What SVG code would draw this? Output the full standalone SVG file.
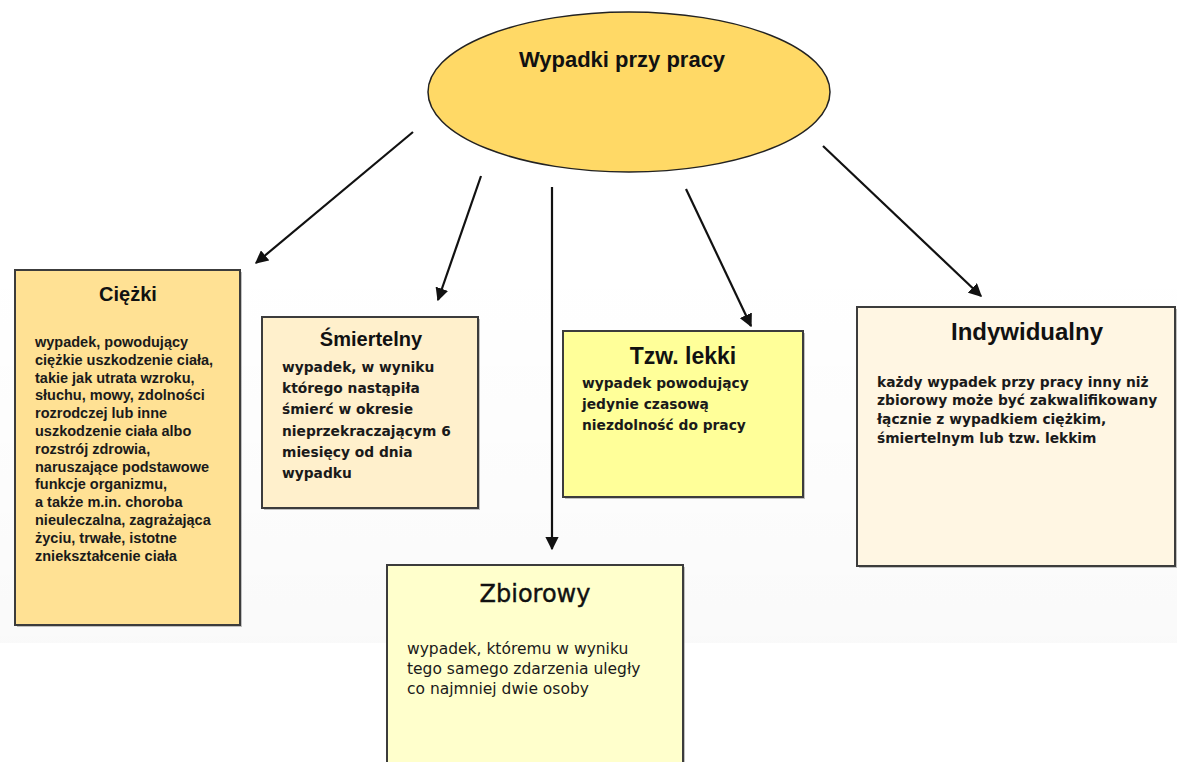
<svg xmlns="http://www.w3.org/2000/svg" width="1177" height="762" viewBox="0 0 1177 762">
<defs>
<style>
.box{stroke:#3c3c3c;stroke-width:2}
.shadow{fill:#9a9a9a;opacity:0.6}
.title{font-family:"Liberation Sans",Arial,sans-serif;font-weight:bold;fill:#111;text-anchor:middle}
.body{font-family:"DejaVu Sans",Verdana,sans-serif;font-size:13.8px;font-weight:bold;fill:#1a1a1a}
.conn{stroke:#111;stroke-width:2.2;fill:none;marker-end:url(#arr)}
</style>
<marker id="arr" viewBox="0 0 10 10" refX="9" refY="5" markerWidth="6" markerHeight="6" markerUnits="strokeWidth" orient="auto">
<path d="M0,0 L10,5 L0,10 z" fill="#111"/>
</marker>
<linearGradient id="bg" x1="0" y1="0" x2="0" y2="1">
<stop offset="0" stop-color="#000" stop-opacity="0"/>
<stop offset="0.6" stop-color="#000" stop-opacity="0.012"/>
<stop offset="1" stop-color="#000" stop-opacity="0.022"/>
</linearGradient>
</defs>
<rect width="1177" height="762" fill="#fff"/>
<rect x="0" y="250" width="1177" height="393" fill="url(#bg)"/>

<g id="connectors">
<line class="conn" x1="413" y1="132" x2="256" y2="263"/>
<line class="conn" x1="481" y1="176" x2="438" y2="300"/>
<line class="conn" x1="552" y1="187" x2="552" y2="549"/>
<line class="conn" x1="686" y1="189" x2="751" y2="326"/>
<line class="conn" x1="823" y1="146" x2="981" y2="296"/>
</g>

<g id="root">
<ellipse cx="629" cy="92" rx="201" ry="80" fill="#FFD966" stroke="#222" stroke-width="1.5"/>
<text class="title" x="622" y="67" font-size="22">Wypadki przy pracy</text>
</g>

<g id="ciezki">
<rect class="shadow" x="17" y="272" width="225" height="355"/>
<rect class="box" x="15" y="270" width="225" height="355" fill="#FFE194"/>
<text class="title" x="128" y="301" font-size="20">Ciężki</text>
<text font-family="'Liberation Sans',Arial,sans-serif" font-size="14.5" font-weight="bold" fill="#1a1a1a">
<tspan x="35" y="347">wypadek, powodujący</tspan>
<tspan x="35" y="365">ciężkie uszkodzenie ciała,</tspan>
<tspan x="35" y="383">takie jak utrata wzroku,</tspan>
<tspan x="35" y="400">słuchu, mowy, zdolności</tspan>
<tspan x="35" y="418">rozrodczej lub inne</tspan>
<tspan x="35" y="436">uszkodzenie ciała albo</tspan>
<tspan x="35" y="454">rozstrój zdrowia,</tspan>
<tspan x="35" y="472">naruszające podstawowe</tspan>
<tspan x="35" y="489">funkcje organizmu,</tspan>
<tspan x="35" y="507">a także m.in. choroba</tspan>
<tspan x="35" y="525">nieuleczalna, zagrażająca</tspan>
<tspan x="35" y="543">życiu, trwałe, istotne</tspan>
<tspan x="35" y="561">zniekształcenie ciała</tspan>
</text>
</g>

<g id="smiertelny">
<rect class="shadow" x="264" y="319" width="216" height="191"/>
<rect class="box" x="262" y="317" width="216" height="191" fill="#FFF0CC"/>
<text class="title" x="371" y="346" font-size="20">Śmiertelny</text>
<text class="body">
<tspan x="282" y="372">wypadek, w wyniku</tspan>
<tspan x="282" y="393">którego nastąpiła</tspan>
<tspan x="282" y="414">śmierć w okresie</tspan>
<tspan x="282" y="436">nieprzekraczającym 6</tspan>
<tspan x="282" y="457">miesięcy od dnia</tspan>
<tspan x="282" y="478">wypadku</tspan>
</text>
</g>

<g id="lekki">
<rect class="shadow" x="565" y="333" width="240" height="166"/>
<rect class="box" x="563" y="331" width="240" height="166" fill="#FFFF99"/>
<text class="title" x="683" y="364" font-size="23">Tzw. lekki</text>
<text class="body" font-size="14.5">
<tspan x="582" y="388">wypadek powodujący</tspan>
<tspan x="582" y="409">jedynie czasową</tspan>
<tspan x="582" y="430">niezdolność do pracy</tspan>
</text>
</g>

<g id="zbiorowy">
<rect class="shadow" x="389" y="567" width="296" height="200"/>
<rect class="box" x="387" y="565" width="296" height="200" fill="#FFFFCC"/>
<text x="535" y="602" font-family="'DejaVu Sans',Verdana,sans-serif" font-size="24" fill="#111" stroke="#111" stroke-width="0.4" text-anchor="middle">Zbiorowy</text>
<text font-family="'DejaVu Sans',Verdana,sans-serif" font-size="15.5" fill="#1a1a1a">
<tspan x="407" y="654">wypadek, któremu w wyniku</tspan>
<tspan x="407" y="674">tego samego zdarzenia uległy</tspan>
<tspan x="407" y="694">co najmniej dwie osoby</tspan>
</text>
</g>

<g id="indywidualny">
<rect class="shadow" x="859" y="309" width="320" height="259"/>
<rect class="box" x="857" y="307" width="318" height="259" fill="#FFF6E3"/>
<text class="title" x="1027" y="340" font-size="24">Indywidualny</text>
<text class="body">
<tspan x="877" y="387">każdy wypadek przy pracy inny niż</tspan>
<tspan x="877" y="405">zbiorowy może być zakwalifikowany</tspan>
<tspan x="877" y="424">łącznie z wypadkiem ciężkim,</tspan>
<tspan x="877" y="443">śmiertelnym lub tzw. lekkim</tspan>
</text>
</g>
</svg>
